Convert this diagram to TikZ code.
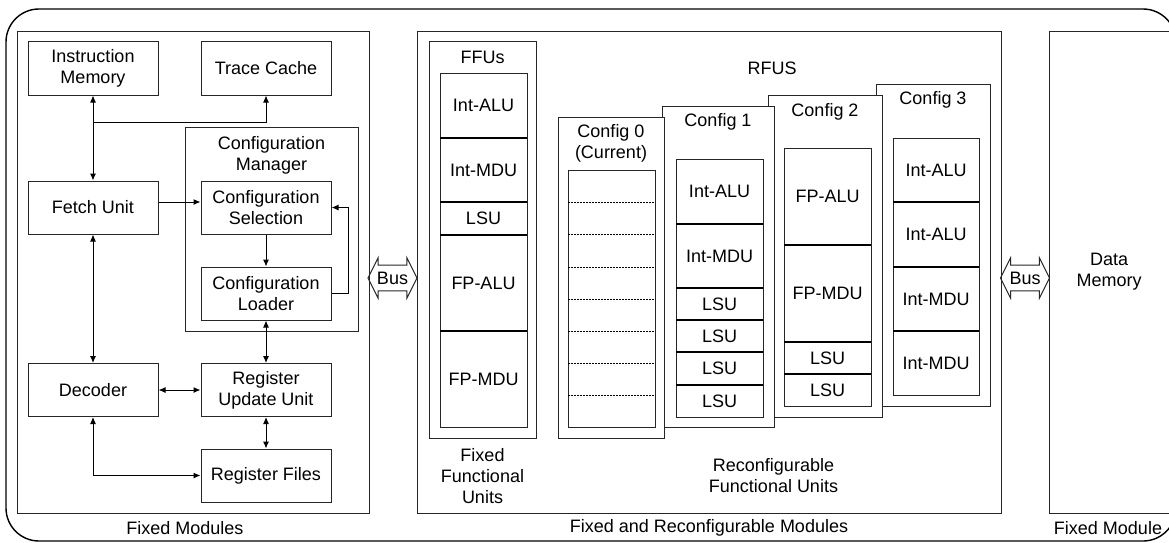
\documentclass[tikz,border=0pt]{standalone}
\usepackage{fontspec}
\setmainfont{Liberation Sans}
\usetikzlibrary{arrows.meta,shapes.arrows}

\tikzset{
  blk/.style={draw=black!85, line width=1pt, minimum width=130pt, minimum height=53pt, align=center, inner sep=0pt},
  frame/.style={draw=black!85, line width=1pt},
  cfgframe/.style={draw=black!85, line width=1pt, fill=white},
  divider/.style={line width=1.8pt},
  slot/.style={dash pattern=on 2pt off 1pt, line width=0.8pt},
  txt/.style={align=center, inner sep=0pt},
  link/.style={line width=1pt, >={Latex[length=7pt,width=6pt]}},
  bus/.style={draw=black!85, line width=1pt, shape=double arrow, double arrow head extend=7.5pt,
    double arrow tip angle=127, minimum height=49pt, inner xsep=0pt, inner ysep=6pt}
}

\begin{document}
\begin{tikzpicture}[x=1pt,y=-1pt,font=\fontsize{18}{21}\selectfont]
  \useasboundingbox (0,0) rectangle (1169,542);
  \clip (0,0) rectangle (1169,542);
  % rounded outline round everything
  \draw[line width=1.4pt, rounded corners=33pt] (6,9) rectangle (1176,541);

  %%% fixed modules
  \draw[frame] (17,31) rectangle (369,513);
  \node[txt] at (185,528) {Fixed Modules};
  \draw[frame] (185,127) rectangle (358,331);
  \node[txt] at (271.5,155) {Configuration\\Manager};
  \node[blk, minimum height=54pt] (imem) at (93,68) {Instruction\\Memory};
  \node[blk, minimum height=54pt] (tcache) at (266,68) {Trace Cache};
  \node[blk] (fetch) at (93,207.5) {Fetch Unit};
  \node[blk] (csel) at (266,207.5) {Configuration\\Selection};
  \node[blk] (cload) at (266,293.5) {Configuration\\Loader};
  \node[blk] (decoder) at (93,390) {Decoder};
  \node[blk] (ruu) at (266,390) {Register\\Update Unit};
  \node[blk] (rfiles) at (266,475.5) {Register Files};
  \coordinate (jn) at (93,122);

  \draw[link,<->] (imem) -- (fetch);
  \draw[link,->] (jn) -| (tcache.south);
  \draw[link,->] ([yshift=5.5pt]fetch.east) -- ([yshift=5.5pt]csel.west);
  \draw[link,->] (csel) -- (cload);
  \draw[link,->] (cload.east) -- ++(17,0) |- (csel.east);
  \draw[link,<->] (cload) -- (ruu);
  \draw[link,<->] (fetch) -- (decoder);
  \draw[link,<->] (decoder) -- (ruu);
  \draw[link,<->] (ruu) -- (rfiles);
  \draw[link,<->] (decoder.south) |- (rfiles.west);

  %%% buses
  \node[bus] (busl) at (392.5,278) {Bus};
  \node[bus] (busr) at (1025,278) {Bus};

  %%% fixed and reconfigurable modules
  \draw[frame] (417,31) rectangle (1001,513);
  \node[txt] at (709,528) {Fixed and Reconfigurable Modules};

  % fixed functional units
  \draw[frame] (429,41) rectangle (536,438);
  \node[txt] at (482.5,57) {FFUs};
  \draw[frame] (440,73) rectangle (527,427);
  \foreach \y in {138,202,235,331}
    \draw[divider] (440,\y) -- (527,\y);
  \foreach \a/\b/\u in {73/138/Int-ALU,138/202/Int-MDU,202/235/LSU,235/331/FP-ALU,331/427/FP-MDU}
    \node[txt] at (483.5,{(\a+\b)/2}) {\u};
  \node[txt] at (482.5,476) {Fixed\\Functional\\Units};

  % reconfigurable units, back to front
  \node[txt] at (772,68) {RFUS};
  \node[txt] at (773.5,476) {Reconfigurable\\Functional Units};

  \draw[cfgframe] (876,84) rectangle (990,406);
  \node[txt] at (933,100) {Config 3};
  \draw[frame] (893,138) rectangle (979,395);
  \foreach \y in {202,267,331}
    \draw[divider] (893,\y) -- (979,\y);
  \foreach \a/\b/\u in {138/202/Int-ALU,202/267/Int-ALU,267/331/Int-MDU,331/395/Int-MDU}
    \node[txt] at (936,{(\a+\b)/2}) {\u};

  \draw[cfgframe] (768,95) rectangle (882,417);
  \node[txt] at (825,112) {Config 2};
  \draw[frame] (784,148) rectangle (871,406);
  \foreach \y in {245,342,374}
    \draw[divider] (784,\y) -- (871,\y);
  \foreach \a/\b/\u in {148/245/FP-ALU,245/342/FP-MDU,342/374/LSU,374/406/LSU}
    \node[txt] at (827.5,{(\a+\b)/2}) {\u};

  \draw[cfgframe] (662,106) rectangle (774,427);
  \node[txt] at (718,122) {Config 1};
  \draw[frame] (676,159) rectangle (763,417);
  \foreach \y in {224,288,320,352,385}
    \draw[divider] (676,\y) -- (763,\y);
  \foreach \a/\b/\u in {159/224/Int-ALU,224/288/Int-MDU,288/320/LSU,320/352/LSU,352/385/LSU,385/417/LSU}
    \node[txt] at (719.5,{(\a+\b)/2}) {\u};

  \draw[cfgframe] (558,117) rectangle (664,438);
  \node[txt] at (611,143.5) {Config 0\\(Current)};
  \draw[frame] (568,170) rectangle (655,427);
  \foreach \y in {202,234,267,299,331,363,395}
    \draw[slot] (568,\y) -- (655,\y);

  %%% data memory
  \node[blk, minimum width=120pt, minimum height=482pt] (dmem) at (1109,272) {Data\\Memory};
  \node[txt] at (1108,528) {Fixed Module};
\end{tikzpicture}
\end{document}
